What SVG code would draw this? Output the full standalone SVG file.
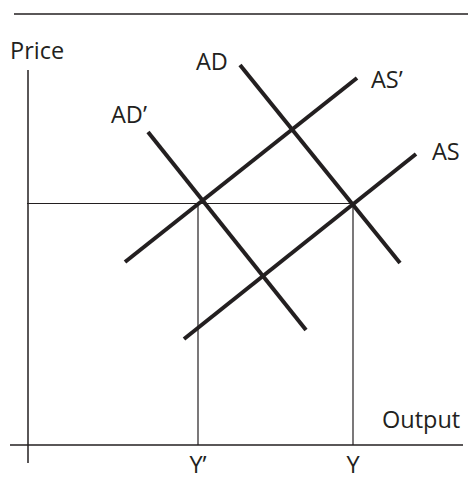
<svg xmlns="http://www.w3.org/2000/svg" width="475" height="482" viewBox="0 0 475 482">
<style>
.t{font-family:"Open Sans","Liberation Sans",sans-serif;font-size:23.5px;fill:#231f20}
.ax{stroke:#231f20;stroke-width:1.5;fill:none}
.g{stroke:#231f20;stroke-width:1.2;fill:none}
.c{stroke:#231f20;stroke-width:4;fill:none}
</style>
<rect width="475" height="482" fill="#fff"/>
<line class="ax" x1="14" y1="14" x2="468" y2="14"/>
<g id="axes">
<line class="ax" x1="28" y1="70" x2="28" y2="463"/>
<line class="ax" x1="10" y1="445" x2="463" y2="445"/>
<text class="t" x="10" y="59">Price</text>
<text class="t" x="382" y="428">Output</text>
<text class="t" x="198" y="473" text-anchor="middle">Y’</text>
<text class="t" x="353" y="473" text-anchor="middle">Y</text>
</g>
<g id="guides">
<line class="g" x1="27" y1="203.5" x2="354" y2="203.5"/>
<line class="g" x1="198" y1="203" x2="198" y2="445"/>
<line class="g" x1="353" y1="204" x2="353" y2="445"/>
</g>
<g id="AD">
<line class="c" x1="240" y1="65" x2="400" y2="263"/>
<text class="t" x="196" y="70">AD</text>
</g>
<g id="ADp">
<line class="c" x1="148" y1="132" x2="306" y2="330"/>
<text class="t" x="111" y="123">AD’</text>
</g>
<g id="ASp">
<line class="c" x1="125" y1="262" x2="357" y2="78"/>
<text class="t" x="371" y="88">AS’</text>
</g>
<g id="AS">
<line class="c" x1="184" y1="339" x2="416" y2="154"/>
<text class="t" x="432" y="160">AS</text>
</g>
</svg>
